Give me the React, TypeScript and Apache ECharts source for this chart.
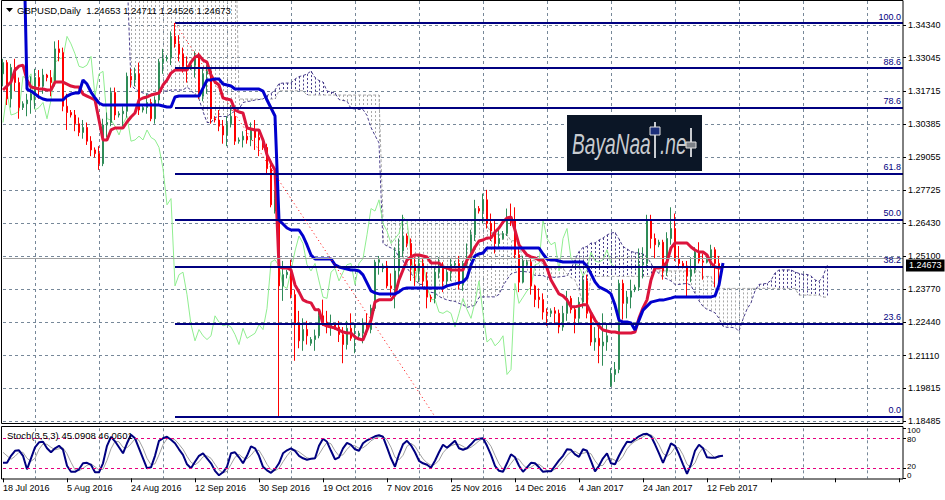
import React, { useEffect, useRef } from "react";
import * as echarts from "echarts";

const FONT = '"Liberation Sans", Arial, sans-serif';

// Daily bars (broker feed incl. Sunday bars), 18 Jul 2016 .. 16 Feb 2017: [open, high, low, close]
const OHLC: number[][] = [
  [1.3240,1.3300,1.3190,1.3285],[1.3285,1.3295,1.3115,1.3140],[1.3140,1.3280,1.3105,1.3265],[1.3265,1.3300,1.3170,1.3205],[1.3205,1.3225,1.3060,1.3105],
  [1.3105,1.3130,1.3095,1.3120],[1.3120,1.3160,1.3070,1.3135],[1.3135,1.3230,1.3080,1.3160],[1.3160,1.3260,1.3100,1.3225],[1.3225,1.3255,1.3140,1.3190],
  [1.3190,1.3260,1.3160,1.3235],[1.3235,1.3240,1.3210,1.3225],[1.3225,1.3255,1.3150,1.3205],[1.3205,1.3370,1.3190,1.3340],[1.3340,1.3375,1.3290,1.3325],
  [1.3325,1.3345,1.3090,1.3110],[1.3110,1.3160,1.3015,1.3085],[1.3085,1.3095,1.3065,1.3075],[1.3075,1.3095,1.3010,1.3040],[1.3040,1.3065,1.2990,1.3005],
  [1.3005,1.3055,1.2980,1.3025],[1.3025,1.3045,1.2955,1.2970],[1.2970,1.2990,1.2910,1.2935],[1.2935,1.2945,1.2905,1.2920],[1.2920,1.2950,1.2855,1.2880],
  [1.2880,1.3060,1.2870,1.3035],[1.3035,1.3085,1.2985,1.3045],[1.3045,1.3185,1.3030,1.3165],[1.3165,1.3185,1.3055,1.3075],[1.3075,1.3090,1.3065,1.3080],
  [1.3080,1.3110,1.3030,1.3090],[1.3090,1.3245,1.3065,1.3230],[1.3230,1.3260,1.3185,1.3215],[1.3215,1.3265,1.3190,1.3240],[1.3240,1.3285,1.3075,1.3095],
  [1.3095,1.3115,1.3085,1.3105],[1.3105,1.3160,1.3080,1.3125],[1.3125,1.3140,1.3050,1.3060],[1.3060,1.3150,1.3040,1.3135],[1.3135,1.3300,1.3115,1.3285],
  [1.3285,1.3340,1.3240,1.3300],[1.3300,1.3315,1.3290,1.3305],[1.3305,1.3410,1.3275,1.3390],[1.3390,1.3444,1.3345,1.3360],[1.3360,1.3395,1.3290,1.3320],
  [1.3320,1.3345,1.3245,1.3270],[1.3270,1.3310,1.3205,1.3265],[1.3265,1.3285,1.3255,1.3275],[1.3275,1.3330,1.3225,1.3310],[1.3310,1.3325,1.3140,1.3150],
  [1.3150,1.3260,1.3130,1.3240],[1.3240,1.3275,1.3160,1.3250],[1.3250,1.3260,1.3040,1.3060],[1.3060,1.3070,1.3045,1.3055],[1.3055,1.3095,1.3010,1.3030],
  [1.3030,1.3055,1.2960,1.2995],[1.2995,1.3070,1.2950,1.3040],[1.3040,1.3115,1.3025,1.3070],[1.3070,1.3090,1.2955,1.2970],[1.2970,1.2985,1.2960,1.2975],
  [1.2975,1.3010,1.2945,1.2990],[1.2990,1.3040,1.2960,1.2975],[1.2975,1.3045,1.2950,1.3015],[1.3015,1.3055,1.2935,1.2985],[1.2985,1.3010,1.2910,1.2975],
  [1.2975,1.2980,1.2935,1.2945],[1.2945,1.2960,1.2835,1.2860],[1.2860,1.2880,1.2705,1.2715],[1.2690,1.2770,1.2680,1.2740],[1.2700,1.2745,1.1866,1.2390],
  [1.2390,1.2490,1.2330,1.2435],[1.2435,1.2455,1.2420,1.2445],[1.2430,1.2495,1.2340,1.2355],[1.2355,1.2375,1.2090,1.2235],[1.2235,1.2290,1.2140,1.2170],
  [1.2170,1.2260,1.2130,1.2215],[1.2215,1.2250,1.2155,1.2190],[1.2160,1.2185,1.2150,1.2175],[1.2175,1.2215,1.2130,1.2190],[1.2190,1.2300,1.2180,1.2270],
  [1.2270,1.2335,1.2230,1.2245],[1.2245,1.2290,1.2200,1.2230],[1.2230,1.2275,1.2190,1.2235],[1.2235,1.2240,1.2215,1.2225],[1.2225,1.2250,1.2165,1.2195],
  [1.2195,1.2225,1.2080,1.2155],[1.2155,1.2250,1.2135,1.2220],[1.2220,1.2280,1.2170,1.2180],[1.2180,1.2240,1.2120,1.2190],[1.2190,1.2210,1.2180,1.2200],
  [1.2200,1.2260,1.2160,1.2235],[1.2235,1.2280,1.2195,1.2215],[1.2215,1.2315,1.2200,1.2300],[1.2300,1.2495,1.2290,1.2485],[1.2485,1.2510,1.2435,1.2495],
  [1.2460,1.2480,1.2445,1.2470],[1.2470,1.2490,1.2380,1.2390],[1.2390,1.2440,1.2345,1.2380],[1.2380,1.2545,1.2300,1.2450],[1.2450,1.2580,1.2410,1.2530],
  [1.2530,1.2675,1.2505,1.2590],[1.2590,1.2600,1.2545,1.2560],[1.2560,1.2580,1.2410,1.2475],[1.2475,1.2505,1.2390,1.2450],[1.2450,1.2510,1.2405,1.2480],
  [1.2480,1.2500,1.2385,1.2410],[1.2410,1.2445,1.2300,1.2345],[1.2345,1.2355,1.2325,1.2340],[1.2340,1.2465,1.2320,1.2445],[1.2445,1.2505,1.2420,1.2460],
  [1.2460,1.2485,1.2365,1.2410],[1.2410,1.2460,1.2390,1.2445],[1.2445,1.2500,1.2410,1.2475],[1.2475,1.2490,1.2465,1.2480],[1.2480,1.2510,1.2375,1.2395],
  [1.2395,1.2490,1.2370,1.2480],[1.2480,1.2560,1.2465,1.2500],[1.2500,1.2615,1.2490,1.2595],[1.2595,1.2735,1.2570,1.2700],[1.2700,1.2710,1.2680,1.2690],
  [1.2690,1.2760,1.2640,1.2735],[1.2735,1.2775,1.2620,1.2640],[1.2640,1.2680,1.2570,1.2610],[1.2610,1.2650,1.2520,1.2560],[1.2560,1.2625,1.2545,1.2580],
  [1.2580,1.2610,1.2575,1.2600],[1.2600,1.2700,1.2590,1.2665],[1.2665,1.2720,1.2630,1.2650],[1.2650,1.2705,1.2500,1.2515],[1.2515,1.2545,1.2365,1.2405],
  [1.2405,1.2510,1.2400,1.2490],[1.2475,1.2495,1.2470,1.2485],[1.2485,1.2500,1.2355,1.2390],[1.2390,1.2395,1.2305,1.2335],[1.2345,1.2380,1.2300,1.2335],
  [1.2335,1.2360,1.2255,1.2285],[1.2285,1.2300,1.2230,1.2280],[1.2280,1.2300,1.2265,1.2290],[1.2290,1.2305,1.2240,1.2280],[1.2280,1.2295,1.2200,1.2225],
  [1.2225,1.2310,1.2210,1.2280],[1.2280,1.2370,1.2250,1.2340],[1.2340,1.2350,1.2280,1.2295],[1.2295,1.2305,1.2200,1.2260],[1.2260,1.2345,1.2240,1.2325],
  [1.2325,1.2430,1.2300,1.2410],[1.2410,1.2435,1.2260,1.2280],[1.2280,1.2290,1.2150,1.2165],[1.2165,1.2225,1.2130,1.2180],[1.2180,1.2240,1.2080,1.2150],
  [1.2150,1.2280,1.2070,1.2165],[1.2165,1.2240,1.2130,1.2190],[1.1990,1.2060,1.1985,1.2035],[1.2035,1.2085,1.2005,1.2055],[1.2055,1.2415,1.2040,1.2400],
  [1.2400,1.2415,1.2255,1.2320],[1.2320,1.2370,1.2260,1.2345],[1.2345,1.2415,1.2300,1.2370],[1.2375,1.2395,1.2365,1.2385],[1.2385,1.2540,1.2370,1.2475],
  [1.2475,1.2545,1.2420,1.2480],[1.2480,1.2675,1.2460,1.2655],[1.2655,1.2675,1.2540,1.2580],[1.2580,1.2600,1.2500,1.2555],[1.2555,1.2575,1.2545,1.2565],
  [1.2565,1.2575,1.2415,1.2450],[1.2450,1.2605,1.2430,1.2580],[1.2580,1.2705,1.2555,1.2620],[1.2620,1.2680,1.2490,1.2500],[1.2500,1.2550,1.2460,1.2480],
  [1.2480,1.2490,1.2460,1.2470],[1.2470,1.2490,1.2345,1.2430],[1.2430,1.2505,1.2405,1.2455],[1.2455,1.2545,1.2440,1.2525],[1.2525,1.2565,1.2480,1.2490],
  [1.2490,1.2520,1.2415,1.2485],[1.2485,1.2505,1.2480,1.2495],[1.2495,1.2555,1.2470,1.2535],[1.2535,1.2545,1.2385,1.2480],[1.2480,1.2510,1.2385,1.2465],
  [1.24653,1.24711,1.24526,1.24673],
];

const TENKAN = [
  1.3175,1.3191,1.3207,1.3255,1.3271,1.3275,1.3215,1.3187,1.3183,1.3179,
  1.3179,1.3175,1.3175,1.3207,1.3207,1.3207,1.3199,1.3191,1.3187,1.3187,
  1.3159,1.3151,1.3143,1.3135,1.3055,1.2975,1.2975,1.3015,1.3023,1.3023,
  1.3023,1.3047,1.3067,1.3083,1.3135,1.3143,1.3147,1.3155,1.3159,1.3163,
  1.3195,1.3215,1.3243,1.3255,1.3255,1.3255,1.3255,1.3287,1.3307,1.3315,
  1.3295,1.3287,1.3235,1.3207,1.3195,1.3143,1.3139,1.3135,1.3095,1.3087,
  1.3083,1.3023,1.3019,1.3015,1.3015,1.2975,1.2915,1.2883,1.2855,1.2466,
  1.2462,1.2462,1.2454,1.2394,1.2366,1.2334,1.2326,1.2322,1.2294,1.2294,
  1.2237,1.2229,1.2225,1.2221,1.2213,1.2205,1.2201,1.2201,1.2185,1.2177,
  1.2173,1.2213,1.2253,1.2326,1.2334,1.2334,1.2334,1.2334,1.2354,1.2414,
  1.2454,1.2494,1.2506,1.2514,1.2514,1.2510,1.2506,1.2482,1.2482,1.2482,
  1.2466,1.2462,1.2454,1.2454,1.2454,1.2454,1.2494,1.2514,1.2546,1.2570,
  1.2574,1.2582,1.2582,1.2606,1.2622,1.2646,1.2662,1.2666,1.2614,1.2554,
  1.2534,1.2514,1.2506,1.2502,1.2494,1.2494,1.2462,1.2414,1.2386,1.2358,
  1.2350,1.2334,1.2306,1.2306,1.2310,1.2314,1.2314,1.2282,1.2253,1.2229,
  1.2213,1.2209,1.2205,1.2205,1.2201,1.2201,1.2201,1.2201,1.2205,1.2261,
  1.2302,1.2334,1.2414,1.2462,1.2462,1.2466,1.2486,1.2542,1.2562,1.2562,
  1.2562,1.2562,1.2546,1.2534,1.2526,1.2526,1.2514,1.2482,1.2466,1.2462,
  1.2462,
];

const KIJUN = [
  1.3908,1.3908,1.3908,1.3908,1.3908,1.3908,1.3179,1.3171,1.3159,1.3147,
  1.3139,1.3135,1.3135,1.3135,1.3135,1.3135,1.3151,1.3159,1.3163,1.3163,
  1.3215,1.3199,1.3167,1.3143,1.3123,1.3115,1.3115,1.3115,1.3115,1.3115,
  1.3115,1.3115,1.3115,1.3115,1.3115,1.3115,1.3115,1.3115,1.3115,1.3115,
  1.3111,1.3107,1.3107,1.3147,1.3151,1.3151,1.3151,1.3151,1.3151,1.3151,
  1.3183,1.3215,1.3215,1.3219,1.3219,1.3199,1.3195,1.3191,1.3179,1.3179,
  1.3179,1.3179,1.3179,1.3179,1.3179,1.3171,1.3135,1.3103,1.3071,1.2654,
  1.2638,1.2622,1.2614,1.2614,1.2614,1.2590,1.2554,1.2514,1.2498,1.2498,
  1.2498,1.2498,1.2498,1.2474,1.2466,1.2462,1.2458,1.2454,1.2454,1.2450,
  1.2434,1.2402,1.2370,1.2362,1.2358,1.2358,1.2358,1.2358,1.2358,1.2366,
  1.2378,1.2382,1.2382,1.2382,1.2382,1.2382,1.2382,1.2382,1.2382,1.2382,
  1.2382,1.2390,1.2394,1.2398,1.2402,1.2406,1.2422,1.2474,1.2510,1.2518,
  1.2522,1.2542,1.2542,1.2542,1.2542,1.2542,1.2542,1.2542,1.2542,1.2542,
  1.2542,1.2542,1.2542,1.2542,1.2542,1.2518,1.2498,1.2494,1.2494,1.2490,
  1.2486,1.2486,1.2486,1.2486,1.2486,1.2486,1.2470,1.2438,1.2406,1.2386,
  1.2378,1.2370,1.2358,1.2313,1.2253,1.2245,1.2245,1.2241,1.2213,1.2253,
  1.2293,1.2309,1.2325,1.2329,1.2333,1.2333,1.2337,1.2341,1.2346,1.2346,
  1.2346,1.2346,1.2346,1.2346,1.2346,1.2346,1.2346,1.2346,1.2350,1.2394,
  1.2482,
];

// Senkou spans, already displaced 26 bars forward (values above the chart top are clipped)
const SPAN_A = [
  1.3650,1.3650,1.3650,1.3650,1.3650,1.3650,1.3650,1.3650,1.3650,1.3650,
  1.3650,1.3650,1.3650,1.3650,1.3650,1.3650,1.3650,1.3650,1.3650,1.3650,
  1.3650,1.3650,1.3650,1.3650,1.3650,1.3650,1.3650,1.3650,1.3650,1.3650,
  1.3650,1.3650,1.3197,1.3179,1.3171,1.3163,1.3159,1.3155,1.3155,1.3171,
  1.3171,1.3171,1.3175,1.3175,1.3175,1.3175,1.3187,1.3175,1.3155,1.3139,
  1.3089,1.3045,1.3045,1.3065,1.3069,1.3069,1.3069,1.3081,1.3091,1.3099,
  1.3125,1.3129,1.3131,1.3135,1.3137,1.3139,1.3153,1.3161,1.3175,1.3201,
  1.3203,1.3203,1.3203,1.3219,1.3229,1.3233,1.3239,1.3251,1.3225,1.3213,
  1.3207,1.3171,1.3167,1.3163,1.3137,1.3133,1.3131,1.3101,1.3099,1.3097,
  1.3097,1.3073,1.3025,1.2993,1.2963,1.2560,1.2550,1.2542,1.2534,1.2504,
  1.2490,1.2462,1.2440,1.2418,1.2396,1.2396,1.2368,1.2364,1.2362,1.2348,
  1.2340,1.2334,1.2330,1.2328,1.2320,1.2314,1.2304,1.2308,1.2312,1.2344,
  1.2346,1.2346,1.2346,1.2346,1.2356,1.2390,1.2416,1.2438,1.2444,1.2448,
  1.2448,1.2446,1.2444,1.2432,1.2432,1.2432,1.2424,1.2426,1.2424,1.2426,
  1.2428,1.2430,1.2458,1.2494,1.2528,1.2544,1.2548,1.2562,1.2562,1.2574,
  1.2582,1.2594,1.2602,1.2604,1.2578,1.2548,1.2538,1.2528,1.2524,1.2522,
  1.2518,1.2506,1.2480,1.2454,1.2440,1.2424,1.2418,1.2410,1.2396,1.2396,
  1.2398,1.2400,1.2392,1.2360,1.2330,1.2308,1.2296,1.2290,1.2282,1.2260,
  1.2228,1.2224,1.2224,1.2222,1.2209,1.2257,1.2297,1.2322,1.2370,1.2396,
  1.2398,1.2400,1.2412,1.2442,1.2454,1.2454,1.2454,1.2454,1.2446,1.2440,
  1.2436,1.2436,1.2430,1.2414,1.2408,1.2428,1.2472,
];

const SPAN_B = [
  1.3908,1.3908,1.3908,1.3908,1.3908,1.3908,1.3908,1.3908,1.3908,1.3908,
  1.3908,1.3908,1.3908,1.3908,1.3908,1.3908,1.3908,1.3908,1.3908,1.3908,
  1.3908,1.3908,1.3908,1.3908,1.3908,1.3908,1.3908,1.3908,1.3908,1.3908,
  1.3908,1.3908,1.3908,1.3908,1.3908,1.3908,1.3908,1.3908,1.3908,1.3908,
  1.3908,1.3908,1.3908,1.3908,1.3908,1.3908,1.3908,1.3908,1.3908,1.3908,
  1.3908,1.3908,1.3908,1.3908,1.3908,1.3908,1.3908,1.3908,1.3908,1.3139,
  1.3139,1.3139,1.3139,1.3139,1.3139,1.3139,1.3139,1.3139,1.3139,1.3172,
  1.3172,1.3172,1.3172,1.3172,1.3172,1.3172,1.3155,1.3155,1.3155,1.3155,
  1.3155,1.3155,1.3155,1.3155,1.3155,1.3155,1.3155,1.3155,1.3155,1.3155,
  1.3155,1.3155,1.3155,1.3155,1.3155,1.2655,1.2655,1.2655,1.2655,1.2655,
  1.2655,1.2655,1.2655,1.2655,1.2655,1.2655,1.2655,1.2655,1.2655,1.2655,
  1.2655,1.2655,1.2655,1.2655,1.2655,1.2655,1.2655,1.2655,1.2655,1.2655,
  1.2655,1.2630,1.2606,1.2598,1.2598,1.2598,1.2596,1.2571,1.2571,1.2563,
  1.2491,1.2491,1.2491,1.2491,1.2491,1.2478,1.2461,1.2461,1.2461,1.2461,
  1.2461,1.2438,1.2423,1.2413,1.2373,1.2318,1.2313,1.2428,1.2428,1.2428,
  1.2428,1.2428,1.2428,1.2428,1.2428,1.2428,1.2428,1.2428,1.2428,1.2428,
  1.2428,1.2428,1.2428,1.2450,1.2450,1.2450,1.2450,1.2450,1.2450,1.2450,
  1.2450,1.2450,1.2450,1.2450,1.2450,1.2428,1.2428,1.2428,1.2380,1.2380,
  1.2380,1.2380,1.2380,1.2380,1.2380,1.2380,1.2380,1.2380,1.2380,1.2380,
  1.2380,1.2380,1.2380,1.2380,1.2380,1.2380,1.2380,1.2380,1.2380,1.2353,
  1.2353,1.2353,1.2353,1.2353,1.2353,1.2345,1.2345,
];

const STOCH_K = [
  31,31,45,55,56,45,18,40,62,72, 73,60,52,60,65,57,25,13,13,18,
  30,31,27,12,12,30,65,83,74,62, 50,70,87,80,60,40,20,22,45,75,
  80,83,77,70,58,47,28,20,33,45, 50,40,30,15,6,12,23,50,52,42,
  30,45,64,60,45,23,16,11,18,30, 50,56,60,55,45,40,37,39,40,65,
  79,73,55,38,42,60,71,67,58,55, 70,76,80,84,86,83,62,40,23,48,
  68,75,66,52,35,30,27,21,35,52, 67,61,68,75,60,57,60,68,77,79,
  80,65,47,25,15,13,30,48,42,25, 13,22,31,30,22,13,14,14,25,36,
  45,58,57,48,43,58,55,35,14,25, 40,50,30,28,45,60,73,72,78,84,
  88,89,84,68,50,31,50,70,65,48, 28,9,28,55,67,60,42,41,41,44,
  45.0908,
];

const STOCH_D = [
  52,45,38,44,52,52,40,34,40,58, 69,68,62,57,59,61,49,32,17,15,
  20,26,29,23,17,18,36,59,74,73, 62,61,69,79,76,60,40,27,29,47,
  67,79,80,77,68,58,44,32,27,33, 43,45,40,28,17,11,14,28,42,48,
  41,39,46,56,56,43,28,17,15,20, 33,45,55,57,53,47,41,39,39,48,
  61,72,69,55,45,47,58,66,65,60, 61,67,75,80,83,84,77,62,42,37,
  46,64,70,64,51,39,31,26,28,36, 51,60,65,68,68,64,59,62,68,75,
  79,75,64,46,29,18,19,30,40,38, 27,20,22,28,28,22,16,14,18,25,
  35,46,53,54,49,50,52,49,35,25, 26,38,40,36,34,44,59,68,74,78,
  83,87,87,80,67,50,44,50,62,61, 47,28,22,31,50,61,56,48,41,42,
  46.0601,
];

const CHIKOU_SHIFT = 26;
const SLOT_COUNT = 226;
const LABEL_STEP = 16;
const GRID_OFFSET = 8;
const DATE_LABELS = [
  "18 Jul 2016", "5 Aug 2016", "24 Aug 2016", "12 Sep 2016", "30 Sep 2016", "19 Oct 2016",
  "7 Nov 2016", "25 Nov 2016", "14 Dec 2016", "4 Jan 2017", "24 Jan 2017", "12 Feb 2017",
];
const PRICE_TICKS = [1.3434, 1.33045, 1.31715, 1.30385, 1.29055, 1.27725, 1.2643, 1.251, 1.2377, 1.2244, 1.2111, 1.19815, 1.18485];
const STOCH_TICKS_A = [100, 20];
const STOCH_TICKS_B = [80, 0];
const STOCH_LEVELS = [80, 20];
const FIB_LABELS = ["100.0", "88.6", "78.6", "61.8", "50.0", "38.2", "23.6", "0.0"];
const FIB_PRICES = [1.3443, 1.3263, 1.3106, 1.2841, 1.26545, 1.2468, 1.2238, 1.1866];
const FIB_START_BAR = 43;
const FIB_LOW_BAR = 108;
const BID = 1.24673;
const TITLE = "GBPUSD,Daily  1.24653 1.24711 1.24526 1.24673";
const STOCH_TITLE = "Stoch(3,5,3) 45.0908 46.0601";
const Y_MIN = 1.18385;
const Y_MAX = 1.35319;

const BULL = "#2e8b57";
const BEAR = "#ff0000";
const GRID_COLOR = "#778899";
const SPAN_A_COLOR = "#483d8b";
const SPAN_B_COLOR = "#a8a8a8";
const NAVY = "#000080";

export default function App() {
  const ref = useRef<HTMLDivElement>(null);

  useEffect(() => {
    if (!ref.current) return;
    const chart = echarts.init(ref.current, undefined, { renderer: "svg" });
    const cats = Array.from({ length: SLOT_COUNT }, (_, i) => String(i));
    const isLabel = (i: number) => i % LABEL_STEP === 0;
    const isGrid = (i: number) => i % LABEL_STEP === GRID_OFFSET;
    const splitLine = { show: true, interval: (i: number) => isGrid(i), lineStyle: { color: GRID_COLOR, type: [3, 3], width: 1 } };
    const fibData: any[] = FIB_PRICES.map((p, k) => [
      { coord: [FIB_START_BAR, p], symbol: "none" },
      {
        coord: [SLOT_COUNT - 1, p], symbol: "none",
        label: { show: true, position: "insideEndTop", formatter: FIB_LABELS[k], color: NAVY, fontSize: 9, fontFamily: FONT, distance: 2 },
      },
    ]);
    fibData.push([
      { coord: [FIB_START_BAR, FIB_PRICES[0]], symbol: "none", lineStyle: { color: "#ff0000", type: [1, 3], width: 1 }, label: { show: false } },
      { coord: [FIB_LOW_BAR, FIB_PRICES[FIB_PRICES.length - 1]], symbol: "none", lineStyle: { color: "#ff0000", type: [1, 3], width: 1 }, label: { show: false } },
    ]);

    // stochastic scale labels: nudged apart slightly so the close pairs 100/80 and 20/0 stay readable
    const stochRich = {
      v100: { padding: [5, 0, 0, 0], fontSize: 8, lineHeight: 8, color: "#000", fontFamily: FONT },
      v80: { padding: [3, 0, 0, 0], fontSize: 8, lineHeight: 8, color: "#000", fontFamily: FONT },
      v20: { padding: [0, 0, 3, 0], fontSize: 8, lineHeight: 8, color: "#000", fontFamily: FONT },
      v0: { padding: [0, 0, 5, 0], fontSize: 8, lineHeight: 8, color: "#000", fontFamily: FONT },
    };
    const stochAxis = (ticks: number[]) => ({
      type: "value", gridIndex: 1, position: "right", min: 0, max: 100,
      axisLine: { show: false },
      axisTick: { show: true, customValues: ticks, length: 3, lineStyle: { color: "#000" } },
      axisLabel: {
        customValues: ticks, margin: 4, fontSize: 8, color: "#000", fontFamily: FONT,
        showMinLabel: true, showMaxLabel: true,
        formatter: (v: number) => `{v${v}|${v}}`,
        rich: stochRich,
      },
      splitLine: { show: false },
    });

    const option: any = {
      animation: false,
      backgroundColor: "#ffffff",
      textStyle: { fontFamily: FONT },
      grid: [
        { left: 3, right: 42, top: 1, height: 422.5 },
        { left: 3, right: 42, top: 428.3, height: 50 },
      ],
      xAxis: [
        {
          type: "category", gridIndex: 0, data: cats, boundaryGap: false,
          axisLine: { show: false }, axisTick: { show: false }, axisLabel: { show: false }, splitLine,
        },
        {
          type: "category", gridIndex: 1, data: cats, boundaryGap: false,
          axisLine: { show: false },
          axisTick: { show: true, interval: (i: number) => isLabel(i), length: 4, lineStyle: { color: "#000" } },
          axisLabel: {
            interval: (i: number) => isLabel(i),
            formatter: (_v: string, i: number) => DATE_LABELS[i / LABEL_STEP] ?? "",
            align: "left", fontSize: 9, color: "#000", margin: 5, fontFamily: FONT,
          },
          splitLine,
        },
      ],
      yAxis: [
        {
          type: "value", gridIndex: 0, position: "right", min: Y_MIN, max: Y_MAX, scale: true,
          axisLine: { show: false },
          axisTick: { show: true, customValues: PRICE_TICKS, length: 3, lineStyle: { color: "#000" } },
          axisLabel: {
            customValues: PRICE_TICKS, formatter: (v: number) => v.toFixed(5), fontSize: 9, lineHeight: 9,
            color: "#000", margin: 5, fontFamily: FONT, showMinLabel: true, showMaxLabel: true,
          },
          splitLine: { show: true, lineStyle: { color: GRID_COLOR, type: [3, 3], width: 1 } },
        },
        stochAxis(STOCH_TICKS_A),
        stochAxis(STOCH_TICKS_B),
      ],
      series: [
        {
          name: "kumo", type: "custom", xAxisIndex: 0, yAxisIndex: 0, z: 1, silent: true, clip: true,
          data: SPAN_A.map((a, i) => [i, a, SPAN_B[i]]),
          renderItem: (params: any, api: any) => {
            const i = api.value(0);
            const a = api.value(1);
            const b = api.value(2);
            const pa = api.coord([i, a]);
            const pb = api.coord([i, b]);
            const cs = params.coordSys;
            const top = cs.y;
            const bot = cs.y + cs.height;
            const y1 = Math.max(top, Math.min(bot, Math.min(pa[1], pb[1])));
            const y2 = Math.max(top, Math.min(bot, Math.max(pa[1], pb[1])));
            if (y2 - y1 < 0.5) return { type: "group", children: [] };
            const x = Math.round(pa[0]) + 0.5;
            return {
              type: "line",
              shape: { x1: x, y1, x2: x, y2 },
              style: { stroke: a > b ? SPAN_A_COLOR : SPAN_B_COLOR, lineWidth: 1, lineDash: [2, 2] },
            };
          },
        },
        {
          name: "spanA", type: "line", xAxisIndex: 0, yAxisIndex: 0, data: SPAN_A, symbol: "none", z: 1, silent: true,
          lineStyle: { color: SPAN_A_COLOR, width: 1, type: [3, 2] },
        },
        {
          name: "spanB", type: "line", xAxisIndex: 0, yAxisIndex: 0, data: SPAN_B, symbol: "none", z: 1, silent: true,
          lineStyle: { color: SPAN_B_COLOR, width: 1, type: [3, 2] },
        },
        {
          name: "chikou", type: "line", xAxisIndex: 0, yAxisIndex: 0, symbol: "none", z: 2, silent: true,
          data: OHLC.slice(CHIKOU_SHIFT).map((d) => d[3]),
          lineStyle: { color: "#90ee90", width: 1 },
        },
        {
          name: "bid", type: "line", xAxisIndex: 0, yAxisIndex: 0, data: [], z: 2, silent: true,
          markLine: {
            silent: true, symbol: ["none", "none"], animation: false,
            lineStyle: { color: "#a0a0a0", width: 1, type: "solid" },
            label: {
              show: true, position: "end", formatter: BID.toFixed(5), color: "#fff", backgroundColor: "#000",
              padding: [2, 3, 1, 3], lineHeight: 9, fontSize: 9, fontFamily: FONT, distance: 3, offset: [0, 7],
            },
            data: [{ yAxis: BID }],
          },
        },
        {
          name: "GBPUSD", type: "candlestick", xAxisIndex: 0, yAxisIndex: 0, z: 3, silent: true, barWidth: 2,
          data: OHLC.map(([o, h, l, c]) => [o, c, l, h]),
          itemStyle: { color: BULL, color0: BEAR, borderColor: BULL, borderColor0: BEAR, borderWidth: 1 },
        },
        {
          name: "tenkan", type: "line", xAxisIndex: 0, yAxisIndex: 0, data: TENKAN, symbol: "none", z: 4, silent: true,
          lineStyle: { color: "#dc143c", width: 3 },
        },
        {
          name: "kijun", type: "line", xAxisIndex: 0, yAxisIndex: 0, data: KIJUN, symbol: "none", z: 4, silent: true,
          lineStyle: { color: "#0000cd", width: 3 },
        },
        {
          name: "fibo", type: "line", xAxisIndex: 0, yAxisIndex: 0, data: [], z: 5, silent: true,
          markLine: {
            silent: true, symbol: ["none", "none"], animation: false,
            lineStyle: { color: NAVY, width: 2, type: "solid" },
            label: { show: false },
            data: fibData,
          },
        },
        {
          name: "stochD", type: "line", xAxisIndex: 1, yAxisIndex: 1, data: STOCH_D, symbol: "none", z: 3, silent: true,
          lineStyle: { color: "#a0a0a0", width: 1 },
          markLine: {
            silent: true, symbol: ["none", "none"], animation: false,
            lineStyle: { color: "#e6007e", width: 1, type: [3, 3] },
            label: { show: false },
            data: STOCH_LEVELS.map((v) => ({ yAxis: v })),
          },
        },
        {
          name: "stochK", type: "line", xAxisIndex: 1, yAxisIndex: 1, data: STOCH_K, symbol: "none", z: 4, silent: true,
          lineStyle: { color: NAVY, width: 2 },
        },
      ],
      graphic: [
        { type: "rect", z: 1, silent: true, shape: { x: 567, y: 115, width: 135, height: 56 }, style: { fill: "#0b1626" } },
        { type: "text", z: 2, silent: true, x: 572, y: 144, scaleX: 0.66,
          style: { text: "BayaNaa", fontSize: 29, fontStyle: "italic", fontFamily: FONT, fill: "#c9ccd1", verticalAlign: "middle" } },
        { type: "line", z: 2, silent: true, shape: { x1: 655, y1: 122, x2: 655, y2: 158 }, style: { stroke: "#c9ccd1", lineWidth: 2 } },
        { type: "rect", z: 3, silent: true, shape: { x: 650, y: 127, width: 10, height: 8 }, style: { fill: "#1c2f7a", stroke: "#e0e0e0", lineWidth: 1 } },
        { type: "text", z: 2, silent: true, x: 660, y: 144, scaleX: 0.66,
          style: { text: ".ne", fontSize: 29, fontStyle: "italic", fontFamily: FONT, fill: "#c9ccd1", verticalAlign: "middle" } },
        { type: "line", z: 2, silent: true, shape: { x1: 691, y1: 128, x2: 691, y2: 157 }, style: { stroke: "#c9ccd1", lineWidth: 2 } },
        { type: "rect", z: 3, silent: true, shape: { x: 686, y: 142, width: 10, height: 6 }, style: { fill: "#7a7f86", stroke: "#e0e0e0", lineWidth: 1 } },
        { type: "rect", z: 20, silent: true, shape: { x: 1.5, y: 0.5, width: 901.5, height: 423 }, style: { fill: "none", stroke: "#000", lineWidth: 1 } },
        { type: "rect", z: 20, silent: true, shape: { x: 1.5, y: 426.5, width: 901.5, height: 52.5 }, style: { fill: "none", stroke: "#000", lineWidth: 1 } },
        { type: "polygon", z: 20, silent: true, shape: { points: [[6, 8], [13, 8], [9.5, 12]] }, style: { fill: "#000" } },
        { type: "text", z: 20, silent: true, x: 17, y: 10,
          style: { text: TITLE, fontSize: 9.5, fontFamily: FONT, fill: "#000", verticalAlign: "middle" } },
        { type: "text", z: 20, silent: true, x: 7, y: 435,
          style: { text: STOCH_TITLE, fontSize: 9.5, fontFamily: FONT, fill: "#000", verticalAlign: "middle" } },
      ],
    };

    chart.setOption(option);
    return () => chart.dispose();
  }, []);

  return (
    <div
      ref={ref}
      style={{ position: "fixed", left: 0, top: 0, width: 945, height: 500, background: "#fff" }}
    />
  );
}
